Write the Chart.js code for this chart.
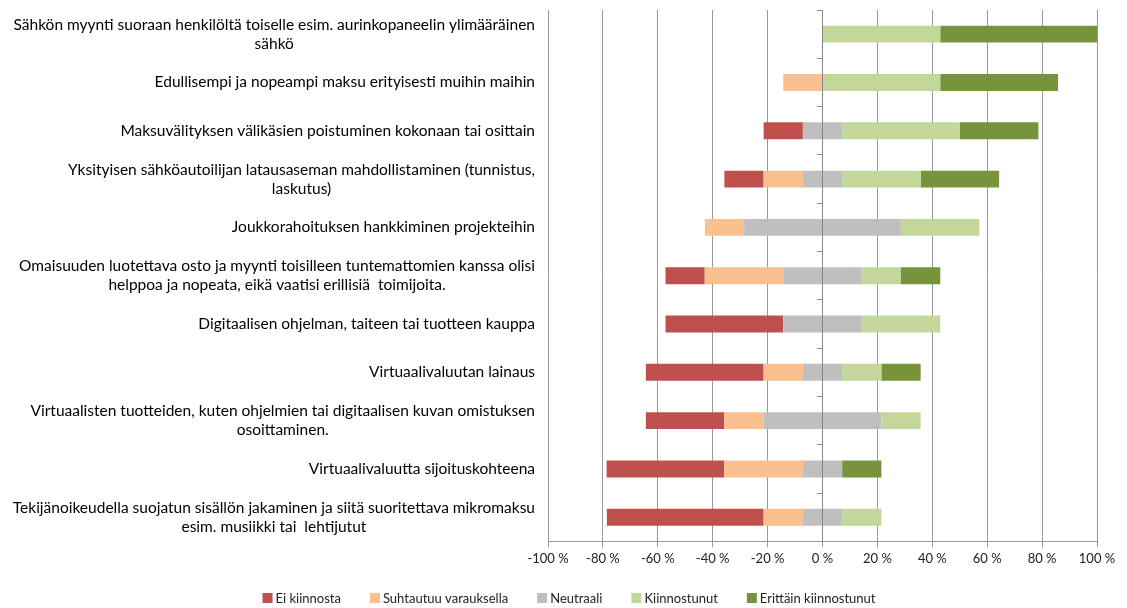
<!DOCTYPE html>
<html>
<head>
<meta charset="utf-8">
<script src="https://cdn.jsdelivr.net/npm/chart.js@4"></script>
<style>
  html, body { margin: 0; padding: 0; background: #ffffff; }
  #wrap { width: 1127px; height: 608px; }
</style>
</head>
<body>
<div id="wrap"><canvas id="c" width="1127" height="608"></canvas></div>
<script>
const categories = [
  ["Sähkön myynti suoraan henkilöltä toiselle esim. aurinkopaneelin ylimääräinen", "sähkö"],
  ["Edullisempi ja nopeampi maksu erityisesti muihin maihin"],
  ["Maksuvälityksen välikäsien poistuminen kokonaan tai osittain"],
  ["Yksityisen sähköautoilijan latausaseman mahdollistaminen (tunnistus,", "laskutus)"],
  ["Joukkorahoituksen hankkiminen projekteihin"],
  ["Omaisuuden luotettava osto ja myynti toisilleen tuntemattomien kanssa olisi", "helppoa ja nopeata, eikä vaatisi erillisiä  toimijoita."],
  ["Digitaalisen ohjelman, taiteen tai tuotteen kauppa"],
  ["Virtuaalivaluutan lainaus"],
  ["Virtuaalisten tuotteiden, kuten ohjelmien tai digitaalisen kuvan omistuksen", "osoittaminen."],
  ["Virtuaalivaluutta sijoituskohteena"],
  ["Tekijänoikeudella suojatun sisällön jakaminen ja siitä suoritettava mikromaksu", "esim. musiikki tai  lehtijutut"]
];
const seriesNames = ["Ei kiinnosta", "Suhtautuu varauksella", "Neutraali", "Kiinnostunut", "Erittäin kiinnostunut"];
const eiKiinnosta  = [0, 0, 14.3, 14.3, 0, 14.3, 42.9, 42.9, 28.6, 42.9, 57.1];
const suhtautuu    = [0, 14.3, 0, 14.3, 14.3, 28.6, 0, 14.3, 14.3, 28.6, 14.3];
const neutraali    = [0, 0, 14.3, 14.3, 57.1, 28.6, 28.6, 14.3, 42.9, 14.3, 14.3];
const kiinnostunut = [42.9, 42.9, 42.9, 28.6, 28.6, 14.3, 28.6, 14.3, 14.3, 0, 14.3];
const erittain     = [57.1, 42.9, 28.6, 28.6, 0, 14.3, 0, 14.3, 0, 14.3, 0];
const xTicks = [-100, -80, -60, -40, -20, 0, 20, 40, 60, 80, 100];

const colors = ["#C0504D", "#FAC090", "#BFBFBF", "#C4D79B", "#77933C"];
const FONT = "Lato, 'Liberation Sans', sans-serif";

function ds(label, data, color) {
  return {
    label: label, data: data, backgroundColor: color, borderWidth: 0,
    barPercentage: 0.35, categoryPercentage: 1.0
  };
}
const datasets = [
  ds(seriesNames[2], neutraali.map(v => -v / 2), colors[2]),
  ds(seriesNames[1], suhtautuu.map(v => -v), colors[1]),
  ds(seriesNames[0], eiKiinnosta.map(v => -v), colors[0]),
  ds(seriesNames[2], neutraali.map(v => v / 2), colors[2]),
  ds(seriesNames[3], kiinnostunut, colors[3]),
  ds(seriesNames[4], erittain, colors[4])
];

const categoryLabelPlugin = {
  id: 'categoryLabels',
  afterDraw(chart) {
    const ctx = chart.ctx;
    const y = chart.scales.y;
    const rightX = 535;
    const lh = 19;
    ctx.save();
    ctx.font = "15.5px " + FONT;
    ctx.fillStyle = "#000000";
    ctx.textAlign = "center";
    ctx.textBaseline = "middle";
    chart.data.labels.forEach((lines, i) => {
      const cy = y.getPixelForValue(i);
      let maxW = 0;
      lines.forEach(l => { maxW = Math.max(maxW, ctx.measureText(l).width); });
      const cx = rightX - maxW / 2;
      const y0 = cy - (lines.length - 1) * lh / 2;
      lines.forEach((l, k) => ctx.fillText(l, cx, y0 + k * lh));
    });
    ctx.restore();
  }
};

const legendPlugin = {
  id: 'bottomLegend',
  afterDraw(chart) {
    const ctx = chart.ctx;
    ctx.save();
    ctx.font = "13px " + FONT;
    ctx.textBaseline = "middle";
    ctx.textAlign = "left";
    const box = 10, gapText = 3, gapItem = 29, cy = 598;
    const widths = seriesNames.map(n => box + gapText + ctx.measureText(n).width);
    const total = widths.reduce((a, b) => a + b, 0) + gapItem * (seriesNames.length - 1);
    let x = 569 - total / 2;
    seriesNames.forEach((n, i) => {
      ctx.fillStyle = colors[i];
      ctx.fillRect(x, cy - box / 2, box, box);
      ctx.fillStyle = "#222222";
      ctx.fillText(n, x + box + gapText, cy + 0.5);
      x += widths[i] + gapItem;
    });
    ctx.restore();
  }
};

new Chart(document.getElementById('c'), {
  type: 'bar',
  data: { labels: categories, datasets: datasets },
  options: {
    indexAxis: 'y',
    responsive: false,
    animation: false,
    layout: { padding: { left: 548, right: 30, top: 10, bottom: 37 } },
    scales: {
      x: {
        stacked: true,
        min: -100, max: 100,
        afterBuildTicks: s => { s.ticks = xTicks.map(v => ({ value: v })); },
        grid: { color: "#999999", lineWidth: 1, tickLength: 6, drawTicks: true },
        border: { display: true, color: "#999999" },
        ticks: {
          color: "#222222", font: { family: FONT, size: 13 }, padding: 4,
          callback: v => v + " %"
        }
      },
      y: {
        stacked: true,
        position: { x: 0 },
        grid: { drawOnChartArea: false, color: "#888888", tickLength: 5, offset: true },
        border: { display: true, color: "#888888" },
        ticks: { display: false }
      }
    },
    plugins: {
      tooltip: { enabled: false },
      legend: { display: false }
    }
  },
  plugins: [categoryLabelPlugin, legendPlugin]
});
</script>
</body>
</html>
